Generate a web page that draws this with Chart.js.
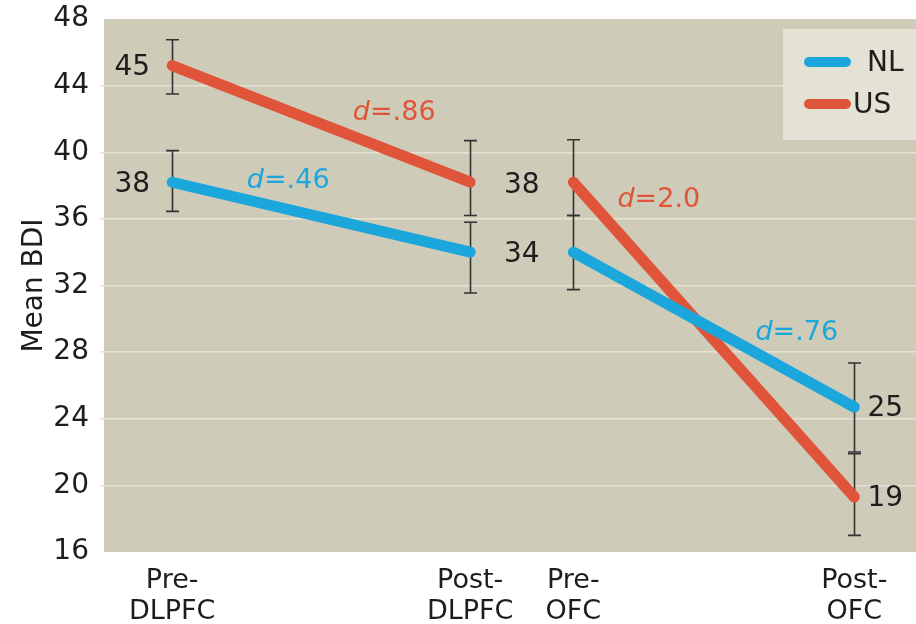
<!DOCTYPE html>
<html>
<head>
<meta charset="utf-8">
<script src="https://cdn.jsdelivr.net/npm/chart.js@4"></script>
<style>
  html, body { margin: 0; padding: 0; background: #ffffff; }
  #wrap { width: 916px; height: 624px; position: relative; }
</style>
</head>
<body>
<div id="wrap"><canvas id="c" width="916" height="624"></canvas></div>
<script>
// ---- data ----
const categories = [['Pre-', 'DLPFC'], ['Post-', 'DLPFC'], ['Pre-', 'OFC'], ['Post-', 'OFC']];
const timepoints = [0.84, 4.51, 5.78, 9.24];
const nlMeans = [38.2, 34.0, 34.0, 24.7];
const usMeans = [45.2, 38.2, 38.2, 19.3];
const nlHigh = [40.1, 35.8, 36.2, 27.35];
const nlLow = [36.45, 31.55, 31.75, 22.0];
const usHigh = [46.75, 40.7, 40.75, 21.9];
const usLow = [43.5, 36.2, 36.2, 17.0];
const nlEffect = ['d=.46', 'd=.76'];
const usEffect = ['d=.86', 'd=2.0'];
const yTicks = [16, 20, 24, 28, 32, 36, 40, 44, 48];
const seriesNames = ['NL', 'US'];

// ---- style ----
const FONT = '"DejaVu Sans", Lato, sans-serif';
const TEXT = '#1f1c1d';
const BLUE = '#1ba6dc';
const RED = '#e0553a';
const BG = '#cecbb8';
const GRID = '#e6e3d3';

const series = [
  { name: seriesNames[0], means: nlMeans, hi: nlHigh, lo: nlLow, effect: nlEffect, color: BLUE,
    dOffsets: [[-33, -36], [83, 3]] },
  { name: seriesNames[1], means: usMeans, hi: usHigh, lo: usLow, effect: usEffect, color: RED,
    dOffsets: [[73, -11], [-55, -140]] }
];

function pts(means) { return timepoints.map((t, i) => ({ x: t, y: means[i] })); }

const bgPlugin = {
  id: 'bgPlugin',
  beforeDraw(chart) {
    const { ctx, chartArea: a } = chart;
    ctx.save();
    ctx.fillStyle = BG;
    ctx.fillRect(a.left, a.top, a.right - a.left, a.bottom - a.top);
    ctx.restore();
  }
};

const errPlugin = {
  id: 'errPlugin',
  beforeDatasetsDraw(chart) {
    const { ctx, scales: { x, y } } = chart;
    ctx.save();
    ctx.strokeStyle = '#333333';
    ctx.lineWidth = 1.6;
    const cap = 6.5;
    series.slice().reverse().forEach(s => {
      timepoints.forEach((t, i) => {
        const px = Math.round(x.getPixelForValue(t)) + 0.5;
        const yh = y.getPixelForValue(s.hi[i]);
        const yl = y.getPixelForValue(s.lo[i]);
        ctx.beginPath();
        ctx.moveTo(px, yh); ctx.lineTo(px, yl);
        ctx.moveTo(px - cap, yh); ctx.lineTo(px + cap, yh);
        ctx.moveTo(px - cap, yl); ctx.lineTo(px + cap, yl);
        ctx.stroke();
      });
    });
    ctx.restore();
  }
};

const labelPlugin = {
  id: 'labelPlugin',
  afterDatasetsDraw(chart) {
    const { ctx, scales: { x, y } } = chart;
    ctx.save();
    // value labels
    ctx.font = '28px ' + FONT;
    ctx.fillStyle = TEXT;
    ctx.textAlign = 'center';
    ctx.textBaseline = 'middle';
    series.forEach(s => {
      const p = timepoints.map(t => x.getPixelForValue(t));
      ctx.fillText(String(Math.round(s.means[0])), p[0] - 40, y.getPixelForValue(s.means[0]) + 2);
      ctx.fillText(String(Math.round(s.means[1])), (p[1] + p[2]) / 2, y.getPixelForValue(s.means[1]) + 3);
      ctx.fillText(String(Math.round(s.means[3])), p[3] + 31, y.getPixelForValue(s.means[3]) + 2);
    });
    // effect size labels
    ctx.textAlign = 'left';
    series.forEach(s => {
      const segs = [[0, 1], [2, 3]];
      segs.forEach((sg, k) => {
        const mx = (x.getPixelForValue(timepoints[sg[0]]) + x.getPixelForValue(timepoints[sg[1]])) / 2;
        const my = (y.getPixelForValue(s.means[sg[0]]) + y.getPixelForValue(s.means[sg[1]])) / 2;
        const cx = mx + s.dOffsets[k][0];
        const cy = my + s.dOffsets[k][1];
        const txt = s.effect[k];
        const head = txt.slice(0, 1), rest = txt.slice(1);
        ctx.font = 'italic 27px ' + FONT;
        const w1 = ctx.measureText(head).width;
        ctx.font = '27px ' + FONT;
        const w2 = ctx.measureText(rest).width;
        const sx = cx - (w1 + w2) / 2;
        ctx.fillStyle = s.color;
        ctx.font = 'italic 27px ' + FONT;
        ctx.fillText(head, sx, cy);
        ctx.font = '27px ' + FONT;
        ctx.fillText(rest, sx + w1, cy);
      });
    });
    ctx.restore();
  },
  afterDraw(chart) {
    const { ctx } = chart;
    ctx.save();
    ctx.fillStyle = '#e4e2d4';
    ctx.fillRect(783, 29, 133, 111);
    const rows = [{ y: 62, tx: 867 }, { y: 104, tx: 853 }];
    series.forEach((s, i) => {
      ctx.strokeStyle = s.color;
      ctx.lineWidth = 10;
      ctx.lineCap = 'round';
      ctx.beginPath();
      ctx.moveTo(809, rows[i].y); ctx.lineTo(846, rows[i].y);
      ctx.stroke();
      ctx.fillStyle = TEXT;
      ctx.font = '28px ' + FONT;
      ctx.textAlign = 'left';
      ctx.textBaseline = 'middle';
      ctx.fillText(s.name, rows[i].tx, rows[i].y + 2);
    });
    ctx.restore();
  }
};

const datasets = series.map(s => ({
  label: s.name,
  data: pts(s.means),
  borderColor: s.color,
  borderWidth: 11,
  borderCapStyle: 'round',
  borderJoinStyle: 'round',
  pointRadius: 0,
  pointHoverRadius: 0,
  fill: false,
  tension: 0,
  segment: {
    borderColor: ctx => ctx.p0DataIndex === 1 ? 'rgba(0,0,0,0)' : s.color
  }
}));

new Chart(document.getElementById('c'), {
  type: 'line',
  data: { datasets },
  options: {
    responsive: false,
    animation: false,
    events: [],
    layout: { padding: { top: 19, right: 0, left: 0, bottom: 0 } },
    plugins: { legend: { display: false }, tooltip: { enabled: false } },
    scales: {
      x: {
        type: 'linear',
        min: 0,
        max: 10,
        afterBuildTicks(axis) { axis.ticks = timepoints.map(v => ({ value: v })); },
        afterFit(axis) { axis.height = 72; axis.paddingLeft = 0; axis.paddingRight = 0; },
        grid: { display: false },
        border: { display: false },
        ticks: {
          autoSkip: false,
          maxRotation: 0,
          padding: 5,
          color: TEXT,
          font: { family: FONT, size: 27, lineHeight: 1.15 },
          callback: (v, i) => categories[i]
        }
      },
      y: {
        min: 16,
        max: 48,
        afterBuildTicks(axis) { axis.ticks = yTicks.map(v => ({ value: v })); },
        afterFit(axis) { axis.width = 104; axis.paddingTop = 0; axis.paddingBottom = 0; },
        border: { display: false },
        grid: {
          color: ctx => (ctx.tick && (ctx.tick.value === 48 || ctx.tick.value === 16)) ? 'rgba(0,0,0,0)' : GRID,
          lineWidth: 1.5,
          tickLength: 4,
          drawTicks: true
        },
        ticks: {
          padding: 11,
          color: TEXT,
          font: { family: FONT, size: 28 }
        },
        title: {
          display: true,
          text: 'Mean BDI',
          color: TEXT,
          font: { family: FONT, size: 28 },
          padding: { top: 18, bottom: 0 }
        }
      }
    }
  },
  plugins: [bgPlugin, errPlugin, labelPlugin]
});
</script>
</body>
</html>
